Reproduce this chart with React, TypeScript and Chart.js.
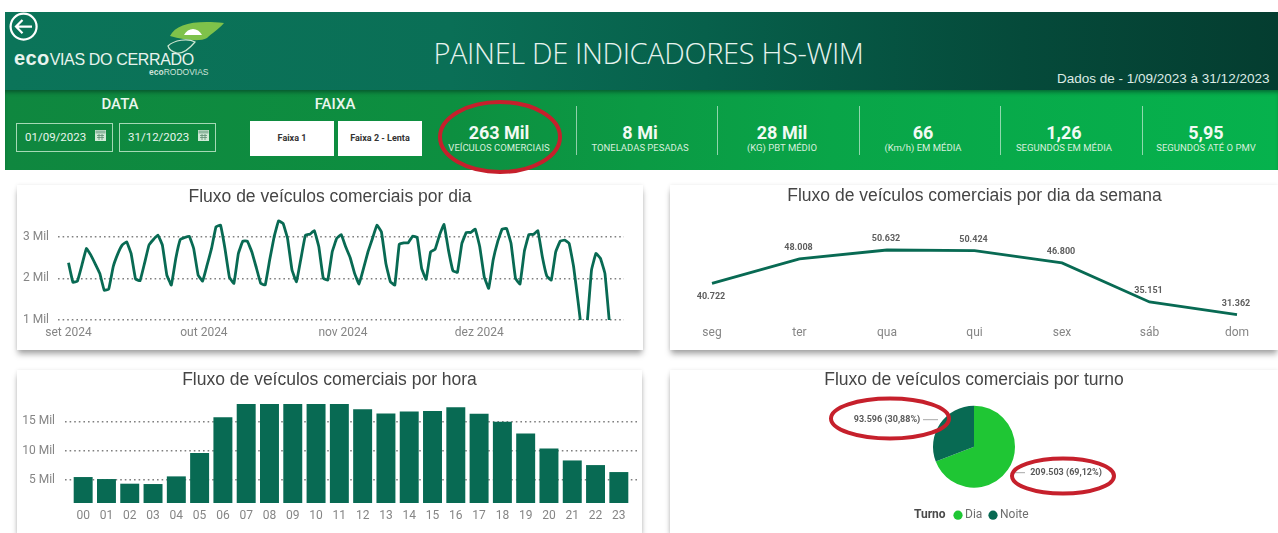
import React, { useEffect, useRef } from "react";
import { Chart, registerables } from "chart.js";

Chart.register(...registerables);

// ---- data ----
const dailyValues = [
  2376, 1904, 1936, 2320, 2720, 2560, 2344, 2120, 1712, 1744, 2280, 2584, 2800, 2880, 2600, 1984, 1944, 2360, 2800, 2936,
  3040, 2800, 2080, 1840, 2480, 2936, 2984, 3016, 2720, 2080, 1936, 2320, 2720, 3240, 3280, 2720, 2024, 1880, 2600, 2896,
  2896, 2640, 2264, 1880, 1840, 2440, 3000, 3384, 3320, 2960, 2200, 1920, 2480, 3040, 3064, 3144, 2760, 2000, 1960, 2640,
  2960, 3056, 2760, 2504, 2120, 1864, 2240, 2640, 2960, 3280, 3120, 2360, 1920, 1840, 2824, 2856, 2856, 3016, 2984, 2240,
  1976, 2640, 2696, 3040, 3296, 2680, 2184, 2144, 2840, 3104, 3104, 3184, 2760, 2040, 1760, 2440, 2880, 3184, 3200, 2840,
  2000, 1864, 2664, 3056, 3056, 3144, 2520, 2056, 1960, 2640, 2896, 2920, 2840, 2280, 1440, 600, 900, 2200, 2600, 2480,
  2120, 950,
];
const monthTicks = [0, 30.3, 61.4, 91.9];
const monthLabels = ["set 2024", "out 2024", "nov 2024", "dez 2024"];
const dailyAxisTicks = [1000, 2000, 3000];

const weekdays = ["seg", "ter", "qua", "qui", "sex", "sáb", "dom"];
const weekdayValues = [40722, 48008, 50632, 50424, 46800, 35151, 31362];

const hours = ["00", "01", "02", "03", "04", "05", "06", "07", "08", "09", "10", "11", "12", "13", "14", "15", "16", "17", "18", "19", "20", "21", "22", "23"];
const hourValues = [5400, 5057, 4258, 4200, 5514, 9511, 15677, 18000, 18000, 18000, 18000, 18000, 17050, 16300, 16650, 16760, 17390, 16250, 14880, 12880, 10310, 8250, 7455, 6256];
const hourAxisTicks = [5000, 10000, 15000];

const shifts = ["Dia", "Noite"];
const shiftValues = [209503, 93596];

const kpiValues = ["263 Mil", "8 Mi", "28 Mil", "66", "1,26", "5,95"];
const kpiLabels = ["VEÍCULOS COMERCIAIS", "TONELADAS PESADAS", "(KG) PBT MÉDIO", "(Km/h) EM MÉDIA", "SEGUNDOS EM MÉDIA", "SEGUNDOS ATÉ O PMV"];
const kpiCenters = [499, 640, 782, 923, 1064, 1206];
const dividers = [576, 717, 859, 1000, 1142];

const DARK = "#086a53";
const LIGHT = "#1fc634";
const SANS = "'Liberation Sans', Arial, sans-serif";
const NARROW = "'Liberation Sans Narrow', Roboto, sans-serif";

const thousands = (n: number) => String(n).replace(/\B(?=(\d{3})+$)/g, ".");
const mil = (v: number) => `${v / 1000} Mil`;

const gridDots = { color: "#808080", lineWidth: 1.5, drawTicks: false };
const dotBorder = { display: false, dash: [1.6, 3] };
const noGrid = { display: false, drawTicks: false };
const tickFont = { family: "Roboto", size: 12 };
const tickColor = "#858585";

const title = (text: string, top: number, total: number) => ({
  display: true,
  text,
  color: "#454545",
  font: { family: SANS, size: 17.5, weight: "normal" as const, lineHeight: 1.2 },
  padding: { top, bottom: total - 21 - top },
});

const fixedTicks = (list: number[]) => (s: any) => {
  s.ticks = list.map((value) => ({ value }));
};

function makeDaily(c: HTMLCanvasElement) {
  return new Chart(c, {
    type: "line",
    data: {
      datasets: [
        {
          data: dailyValues.map((y, x) => ({ x, y })),
          borderColor: DARK,
          borderWidth: 2.8,
          pointRadius: 0,
          tension: 0.08,
          clip: 0,
        },
      ],
    },
    options: {
      responsive: false,
      animation: false,
      layout: { padding: { left: 19, right: 19 } },
      plugins: { legend: { display: false }, tooltip: { enabled: false }, title: title("Fluxo de veículos comerciais por dia", 2, 31) },
      scales: {
        x: {
          type: "linear",
          min: -2.35,
          max: 124.27,
          grid: noGrid,
          border: { display: false },
          afterBuildTicks: fixedTicks(monthTicks),
          afterFit: (s: any) => (s.height = 30),
          ticks: { color: tickColor, font: tickFont, padding: 5.5, autoSkip: false, maxRotation: 0, callback: (v: any) => monthLabels[monthTicks.indexOf(v)] },
        },
        y: {
          min: 1000,
          max: 3500,
          grid: gridDots,
          border: dotBorder,
          afterBuildTicks: fixedTicks(dailyAxisTicks),
          afterFit: (s: any) => (s.width = 22),
          ticks: { color: tickColor, font: tickFont, mirror: true, padding: -35, callback: (v: any) => mil(v) },
        },
      },
    } as any,
  });
}

const weekLabelPlugin = {
  id: "weekLabels",
  afterDatasetsDraw(chart: any) {
    const { ctx } = chart;
    const pts = chart.getDatasetMeta(0).data;
    ctx.save();
    ctx.font = "bold 9px Roboto";
    ctx.fillStyle = "#5e5e5e";
    ctx.textAlign = "center";
    ctx.textBaseline = "middle";
    pts.forEach((p: any, i: number) => {
      const v = weekdayValues[i];
      ctx.fillText(thousands(v), p.x - 1, p.y + (i === 0 ? 13 : -11));
    });
    ctx.restore();
  },
};

function makeWeek(c: HTMLCanvasElement) {
  return new Chart(c, {
    type: "line",
    data: {
      labels: weekdays,
      datasets: [{ data: weekdayValues, borderColor: DARK, borderWidth: 2.8, pointRadius: 0, tension: 0, clip: false }],
    },
    plugins: [weekLabelPlugin],
    options: {
      responsive: false,
      animation: false,
      layout: { padding: { left: 42, right: 41 } },
      plugins: { legend: { display: false }, tooltip: { enabled: false }, title: title("Fluxo de veículos comerciais por dia da semana", 0.5, 50) },
      scales: {
        x: {
          offset: false,
          grid: noGrid,
          border: { display: false },
          afterFit: (s: any) => (s.height = 24),
          ticks: { color: tickColor, font: tickFont, padding: 0, autoSkip: false, maxRotation: 0 },
        },
        y: { display: false, min: 28000, max: 55100 },
      },
    } as any,
  });
}

function makeHour(c: HTMLCanvasElement) {
  const idx = hours.map((_, i) => i);
  return new Chart(c, {
    type: "bar",
    data: {
      datasets: [{ data: hourValues.map((y, x) => ({ x, y })), backgroundColor: DARK, barThickness: 18.3 }],
    },
    options: {
      responsive: false,
      animation: false,
      layout: { padding: { left: 5, right: 5 } },
      plugins: { legend: { display: false }, tooltip: { enabled: false }, title: title("Fluxo de veículos comerciais por hora", 0, 34) },
      scales: {
        x: {
          type: "linear",
          offset: false,
          min: -0.78,
          max: 23.78,
          grid: noGrid,
          border: { display: false },
          afterBuildTicks: fixedTicks(idx),
          afterFit: (s: any) => (s.height = 30),
          ticks: { color: tickColor, font: tickFont, padding: 6, autoSkip: false, maxRotation: 0, callback: (v: any) => hours[v] },
        },
        y: {
          min: 1000,
          max: 18000,
          grid: gridDots,
          border: dotBorder,
          afterBuildTicks: fixedTicks(hourAxisTicks),
          afterFit: (s: any) => (s.width = 43),
          ticks: { color: tickColor, font: tickFont, padding: 10, callback: (v: any) => mil(v) },
        },
      },
    } as any,
  });
}

const pieAnnotations = {
  id: "pieAnnotations",
  afterDraw(chart: any) {
    const { ctx, chartArea } = chart;
    const cx = (chartArea.left + chartArea.right) / 2;
    const cy = (chartArea.top + chartArea.bottom) / 2;
    const total = shiftValues.reduce((a, b) => a + b, 0);
    const text = (i: number) => `${thousands(shiftValues[i])} (${((shiftValues[i] / total) * 100).toFixed(2).replace(".", ",")}%)`;
    ctx.save();
    ctx.textBaseline = "middle";
    ctx.font = "bold 9px Roboto";
    ctx.fillStyle = "#5a5a5a";
    ctx.textAlign = "center";
    ctx.fillText(text(1), cx - 87, cy - 27);
    ctx.fillText(text(0), cx + 92, cy + 26);
    ctx.strokeStyle = "#a8a8a8";
    ctx.lineWidth = 1;
    ctx.beginPath();
    ctx.moveTo(cx - 51, cy - 27);
    ctx.lineTo(cx - 36, cy - 27);
    ctx.moveTo(cx + 38, cy + 26);
    ctx.lineTo(cx + 51, cy + 26);
    ctx.stroke();
    // legend row
    const y = cy + 68.5;
    ctx.font = "bold 12px Roboto";
    ctx.fillStyle = "#4a4a4a";
    ctx.textAlign = "left";
    ctx.fillText("Turno", cx - 60, y);
    ctx.font = "12px Roboto";
    const xs = [cx - 16, cx + 19];
    shifts.forEach((s, i) => {
      ctx.fillStyle = i === 0 ? LIGHT : DARK;
      ctx.beginPath();
      ctx.arc(xs[i], y, 4.6, 0, Math.PI * 2);
      ctx.fill();
      ctx.fillStyle = "#6e6e6e";
      ctx.fillText(s, xs[i] + 7, y);
    });
    ctx.restore();
  },
};

function makePie(c: HTMLCanvasElement) {
  return new Chart(c, {
    type: "pie",
    data: { labels: shifts, datasets: [{ data: shiftValues, backgroundColor: [LIGHT, DARK], borderWidth: 0 }] },
    plugins: [pieAnnotations],
    options: {
      responsive: false,
      animation: false,
      layout: { padding: { bottom: 45.3 } },
      plugins: { legend: { display: false }, tooltip: { enabled: false }, title: title("Fluxo de veículos comerciais por turno", 0, 35.7) },
    } as any,
  });
}

function Card({ left, top, width, height, make }: any) {
  const ref = useRef<HTMLCanvasElement | null>(null);
  useEffect(() => {
    const chart = make(ref.current!);
    return () => chart.destroy();
  }, []);
  return (
    <div style={{ position: "absolute", left, top, width, height, background: "#fff", boxShadow: "0 5px 6px -1px rgba(0,0,0,0.35), 0 0 4px rgba(0,0,0,0.08)" }}>
      <canvas ref={ref} width={width} height={height} style={{ display: "block", width, height }} />
    </div>
  );
}

const abs = (o: any): any => ({ position: "absolute", whiteSpace: "nowrap", ...o });
const centered = (x: number, y: number, o: any) => abs({ left: x - 300, width: 600, top: y, textAlign: "center", ...o });

function CalIcon({ x, y }: any) {
  return (
    <svg style={abs({ left: x, top: y })} width="11" height="11" viewBox="0 0 11 11">
      <rect x="0.5" y="0.5" width="10" height="10" fill="#cfe9d6" stroke="#cfe9d6" />
      <rect x="0.5" y="0.5" width="10" height="3" fill="#8fb8a0" />
      <path d="M2 5.5h7M2 7.5h7M4 4v6M7 4v6" stroke="#5d8c72" strokeWidth="0.8" />
    </svg>
  );
}

export default function App() {
  return (
    <div style={abs({ left: 0, top: 0, width: 1278, height: 533, overflow: "hidden", background: "#fff", filter: "blur(0.4px)" })}>
      {/* dark header */}
      <div style={abs({ left: 5, top: 12, width: 1273, height: 78, background: "linear-gradient(90deg,#0b7459 0%,#0a6f56 35%,#07604b 55%,#054a3a 80%,#043d30 100%)" })} />
      {/* green band */}
      <div style={abs({ left: 5, top: 90, width: 1273, height: 80, background: "linear-gradient(90deg,#0f873f 0%,#0d8f40 35%,#09a548 65%,#06b24d 100%)", boxShadow: "inset 0 4px 4px -2px rgba(0,40,30,0.55)" })} />

      {/* back arrow */}
      <svg style={abs({ left: 8, top: 12 })} width="32" height="32" viewBox="0 0 32 32">
        <circle cx="15.6" cy="14.6" r="13" fill="none" stroke="#fff" strokeWidth="2.2" />
        <path d="M8 14.6h16M14.5 8l-6.5 6.6 6.5 6.6" fill="none" stroke="#fff" strokeWidth="2.2" />
      </svg>

      {/* logo */}
      <svg style={abs({ left: 160, top: 16 })} width="70" height="40" viewBox="0 0 70 40">
        <path d="M10 20C16 8 34 4 64 7 58 14 52 17 47 22 40 26 24 24 10 20Z" fill="#7ec24a" />
        <path d="M24 19c4-8 14-8 18 0z" fill="#fff" />
        <path d="M8 30C14 24 28 22 35 26 30 32 24 38 17 37 13 36 9 34 8 30Z" fill="none" stroke="#cfe7d2" strokeWidth="1.2" />
      </svg>
      <div style={abs({ left: 14, top: 48, color: "#e8f3ee", fontFamily: SANS, fontSize: 16, lineHeight: "20px", letterSpacing: -0.35 })}>
        <b style={{ fontSize: 20, letterSpacing: 0.4 }}>eco</b>VIAS DO CERRADO
      </div>
      <div style={abs({ left: 149, top: 68, color: "#cfe3da", fontFamily: SANS, fontSize: 8.5, lineHeight: "9px" })}>
        <b>eco</b>RODOVIAS
      </div>

      <div style={centered(648.5, 35, { color: "#e6f3ee", fontFamily: "'Open Sans'", fontWeight: 300, fontSize: 29, lineHeight: "36px", letterSpacing: -0.35 })}>PAINEL DE INDICADORES HS-WIM</div>
      <div style={abs({ left: 1057, top: 71, color: "#dcebe5", fontFamily: SANS, fontSize: 13.5, lineHeight: "16px" })}>Dados de - 1/09/2023 à 31/12/2023</div>

      {/* filters */}
      <div style={centered(120, 95, { color: "#eaf6ee", fontFamily: "Roboto", fontWeight: 500, fontSize: 15, lineHeight: "18px" })}>DATA</div>
      <div style={centered(335, 95, { color: "#eaf6ee", fontFamily: "Roboto", fontWeight: 500, fontSize: 15, lineHeight: "18px" })}>FAIXA</div>
      {[
        [16, 97, "01/09/2023"],
        [119, 97, "31/12/2023"],
      ].map(([l, w, t]: any) => (
        <div key={t} style={abs({ left: l, top: 123, width: w, height: 29, boxSizing: "border-box", border: "1px solid #a5d9b5", color: "#e8f5ec", fontFamily: "Roboto", fontSize: 11.5, lineHeight: "27px", paddingLeft: 8 })}>
          {t}
          <CalIcon x={78} y={6} />
        </div>
      ))}
      {[
        [250, 84, "Faixa 1"],
        [338, 84, "Faixa 2 - Lenta"],
      ].map(([l, w, t]: any) => (
        <div key={t} style={abs({ left: l, top: 121, width: w, height: 35, background: "#fff", color: "#333", fontFamily: "Roboto", fontWeight: 700, fontSize: 9, lineHeight: "35px", textAlign: "center" })}>
          {t}
        </div>
      ))}

      {/* KPI */}
      {kpiValues.map((v, i) => (
        <div key={v} style={centered(kpiCenters[i], 122, { color: "#f2faf4", fontFamily: NARROW, fontWeight: 700, fontSize: 18, lineHeight: "22px" })}>{v}</div>
      ))}
      {kpiLabels.map((v, i) => (
        <div key={v} style={centered(kpiCenters[i], 141.5, { color: "#d8efdd", fontFamily: NARROW, fontSize: 9.5, lineHeight: "12px" })}>{v}</div>
      ))}
      {dividers.map((x) => (
        <div key={x} style={abs({ left: x, top: 106, width: 1, height: 49, background: "rgba(255,255,255,0.55)" })} />
      ))}

      {/* cards */}
      <Card left={17} top={185} width={626} height={165} make={makeDaily} />
      <Card left={670} top={185} width={608} height={165} make={makeWeek} />
      <Card left={17} top={370} width={625} height={163} make={makeHour} />
      <Card left={670} top={370} width={608} height={163} make={makePie} />

      {/* red hand-drawn marks */}
      <svg style={abs({ left: 0, top: 0 })} width="1278" height="533">
        <ellipse cx="500" cy="137" rx="60" ry="35" fill="none" stroke="#c6202c" strokeWidth="4" />
        <ellipse cx="890" cy="418.5" rx="59" ry="20" fill="none" stroke="#c6202c" strokeWidth="4" />
        <ellipse cx="1063" cy="476" rx="51" ry="17.5" fill="none" stroke="#c6202c" strokeWidth="4" />
      </svg>
    </div>
  );
}
